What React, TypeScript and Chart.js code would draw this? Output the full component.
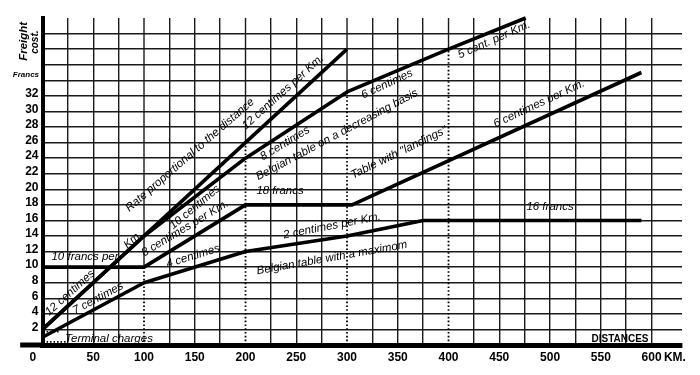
import React, { useEffect, useRef } from 'react';
import { Chart, registerables } from 'chart.js';

Chart.register(...registerables);

// ---- data (distance in km, freight cost in francs) ----
const rateKm = [0, 300];
const rateFr = [2, 38];
const decreasingKm = [0, 100, 200, 300, 400, 476];
const decreasingFr = [2, 14, 24, 32.5, 38, 42];
const maximumKm = [0, 100, 200, 300, 375, 590];
const maximumFr = [1, 8, 12, 14, 16, 16];
const landingsKm = [0, 100, 200, 305, 590];
const landingsFr = [10, 10, 18, 18, 35];
const markerKm = [100, 200, 300, 400];
const markerTopFr = [10, 26, 32.5, 38];
const terminalFr = [1.7, 0.4];
const terminalEndKm = [16, 25];
const xTickLabels = [50, 100, 150, 200, 250, 300, 350, 400, 450, 500, 550, 600];
const yTickLabels = [2, 4, 6, 8, 10, 12, 14, 16, 18, 20, 22, 24, 26, 28, 30, 32];

const X_MIN = 0;
const X_MAX = 630;
const Y_MIN = 0;
const Y_MAX = 42;

const NOTE_FONT = 'italic 11.5px "Liberation Sans", Arial, sans-serif';
const BOLD_ITALIC = 'italic bold 11.5px "Liberation Sans", Arial, sans-serif';

type Note = { text: string; x: number; y: number; rot: number; font?: string };

const notes: Note[] = [
  { text: 'Freight', x: -18.2, y: 39.0, rot: -90, font: BOLD_ITALIC },
  { text: 'cost.', x: -6.8, y: 38.9, rot: -90, font: 'italic bold 10px "Liberation Sans", Arial, sans-serif' },
  { text: 'Francs', x: -16.3, y: 34.7, rot: 0, font: 'italic bold 8px "Liberation Sans", Arial, sans-serif' },
  { text: '10 francs per', x: 41.9, y: 11.3, rot: 0 },
  { text: 'Km.', x: 89.2, y: 13.5, rot: -42 },
  { text: '12 centimes', x: 27.1, y: 6.7, rot: -42 },
  { text: '7 centimes', x: 54.7, y: 6.0, rot: -28 },
  { text: 'Terminal charges', x: 65.5, y: 0.8, rot: 0 },
  { text: 'Rate proportional to the distance', x: 145.3, y: 24.4, rot: -41 },
  { text: '12 centimes per Km.', x: 236.9, y: 32.5, rot: -42 },
  { text: '8 centimes', x: 238.9, y: 25.9, rot: -31 },
  { text: 'Belgian table on a decreasing basis', x: 290.1, y: 27.0, rot: -28 },
  { text: '6 centimes', x: 339.4, y: 33.5, rot: -25 },
  { text: '5 cent. per Km.', x: 444.8, y: 39.2, rot: -24 },
  { text: 'Table with "landings"', x: 351.2, y: 24.7, rot: -26 },
  { text: '6 centimes per Km.', x: 489.2, y: 31.0, rot: -25 },
  { text: '18 francs', x: 234, y: 19.8, rot: 0 },
  { text: '10 centimes', x: 150.2, y: 17.7, rot: -40 },
  { text: '8 centimes per Km.', x: 140.4, y: 15.0, rot: -31 },
  { text: '4 centimes', x: 148.3, y: 11.4, rot: -17 },
  { text: '2 centimes per Km.', x: 285.2, y: 15.3, rot: -11 },
  { text: 'Belgian table with a maximom', x: 285.2, y: 11.2, rot: -10 },
  { text: '16 francs', x: 500, y: 17.7, rot: 0 },
  { text: 'DISTANCES', x: 568.9, y: 0.8, rot: 0, font: 'bold 10px "Liberation Sans", Arial, sans-serif' },
  { text: 'KM.', x: 623, y: -1.6, rot: 0, font: 'bold 12px "Liberation Sans", Arial, sans-serif' },
  { text: '0', x: -9.4, y: -1.6, rot: 0, font: 'bold 12px "Liberation Sans", Arial, sans-serif' },
];

const pts = (xs: number[], ys: number[]) => xs.map((x, i) => ({ x, y: ys[i] }));

const notesPlugin = {
  id: 'notes',
  afterDraw(chart: any) {
    const { ctx, chartArea } = chart;
    const xs = chart.scales.x;
    const ys = chart.scales.y;
    ctx.save();
    // extension of the base line to the left of the vertical axis
    const y0 = ys.getPixelForValue(0);
    ctx.strokeStyle = '#000';
    ctx.lineWidth = 5;
    ctx.beginPath();
    ctx.moveTo(xs.getPixelForValue(-22), y0);
    ctx.lineTo(chartArea.left, y0);
    ctx.stroke();
    for (const n of notes) {
      ctx.save();
      ctx.translate(xs.getPixelForValue(n.x), ys.getPixelForValue(n.y));
      ctx.rotate((n.rot * Math.PI) / 180);
      ctx.font = n.font || NOTE_FONT;
      ctx.fillStyle = '#000';
      ctx.textAlign = 'center';
      ctx.textBaseline = 'middle';
      ctx.fillText(n.text, 0, 0);
      ctx.restore();
    }
    ctx.restore();
  },
};

export default function App() {
  const ref = useRef<HTMLCanvasElement>(null);

  useEffect(() => {
    const thick = {
      type: 'line' as const,
      borderColor: '#000',
      borderWidth: 3.6,
      pointRadius: 0,
      tension: 0,
      fill: false,
      clip: false as any,
      borderJoinStyle: 'round' as const,
    };
    const datasets: any[] = [
      { ...thick, label: 'Rate proportional', data: pts(rateKm, rateFr) },
      { ...thick, label: 'Belgian decreasing', data: pts(decreasingKm, decreasingFr) },
      { ...thick, label: 'Belgian maximum', data: pts(maximumKm, maximumFr) },
      { ...thick, label: 'Landings', data: pts(landingsKm, landingsFr) },
    ];
    markerKm.forEach((km, i) => {
      datasets.push({
        type: 'line', label: 'dot' + km, borderColor: '#000', borderWidth: 1.8, borderDash: [1.6, 2.2],
        pointRadius: 0, data: [{ x: km, y: 0 }, { x: km, y: markerTopFr[i] }],
      });
      datasets.push({
        type: 'line', label: 'solid' + km, borderColor: '#1a1a1a', borderWidth: 1.4,
        pointRadius: 0, data: [{ x: km, y: markerTopFr[i] }, { x: km, y: Y_MAX }],
      });
    });
    terminalFr.forEach((fr, i) => {
      datasets.push({
        type: 'line', label: 'terminal' + i, borderColor: '#000', borderWidth: 1.6, borderDash: [1.5, 2],
        pointRadius: 0, data: [{ x: 4, y: fr }, { x: terminalEndKm[i], y: fr }],
      });
    });

    const tickFont = { family: '"Liberation Sans", Arial, sans-serif', size: 12, weight: 'bold' as const };

    const chart = new Chart(ref.current as HTMLCanvasElement, {
      type: 'line',
      data: { datasets },
      options: {
        responsive: false,
        animation: false,
        devicePixelRatio: 1,
        events: [],
        layout: { padding: { top: 18, right: 18, left: 0, bottom: 0 } },
        plugins: { legend: { display: false }, tooltip: { enabled: false } },
        scales: {
          x: {
            type: 'linear',
            min: X_MIN,
            max: X_MAX,
            afterFit: (s: any) => { s.height = 30; },
            ticks: {
              stepSize: 25,
              autoSkip: false,
              maxRotation: 0,
              padding: 5,
              color: '#000',
              font: tickFont,
              callback: (v: any) => (xTickLabels.includes(Number(v)) ? String(v) : ''),
            },
            grid: {
              drawTicks: false,
              lineWidth: 1.4,
              color: (c: any) => {
                const v = c.tick ? c.tick.value : -1;
                if (v <= 0 || v > 600 || markerKm.includes(v)) return 'rgba(0,0,0,0)';
                return '#1a1a1a';
              },
            },
            border: { display: true, width: 5, color: '#000' },
          },
          y: {
            type: 'linear',
            min: Y_MIN,
            max: Y_MAX,
            afterFit: (s: any) => { s.width = 42.5; },
            ticks: {
              stepSize: 2,
              autoSkip: false,
              padding: 4,
              labelOffset: -2,
              color: '#000',
              font: tickFont,
              callback: (v: any) => (yTickLabels.includes(Number(v)) ? String(v) : ''),
            },
            grid: {
              drawTicks: false,
              lineWidth: 1.4,
              color: (c: any) => {
                const v = c.tick ? c.tick.value : -1;
                if (v <= 0 || v >= Y_MAX) return 'rgba(0,0,0,0)';
                return '#1a1a1a';
              },
            },
            border: { display: true, width: 4, color: '#000' },
          },
        },
      },
      plugins: [notesPlugin],
    });
    return () => chart.destroy();
  }, []);

  return (
    <div style={{ position: 'fixed', left: 0, top: 0, width: 700, height: 375, background: '#fff' }}>
      <canvas ref={ref} width={700} height={375} style={{ width: 700, height: 375, display: 'block' }} />
    </div>
  );
}
